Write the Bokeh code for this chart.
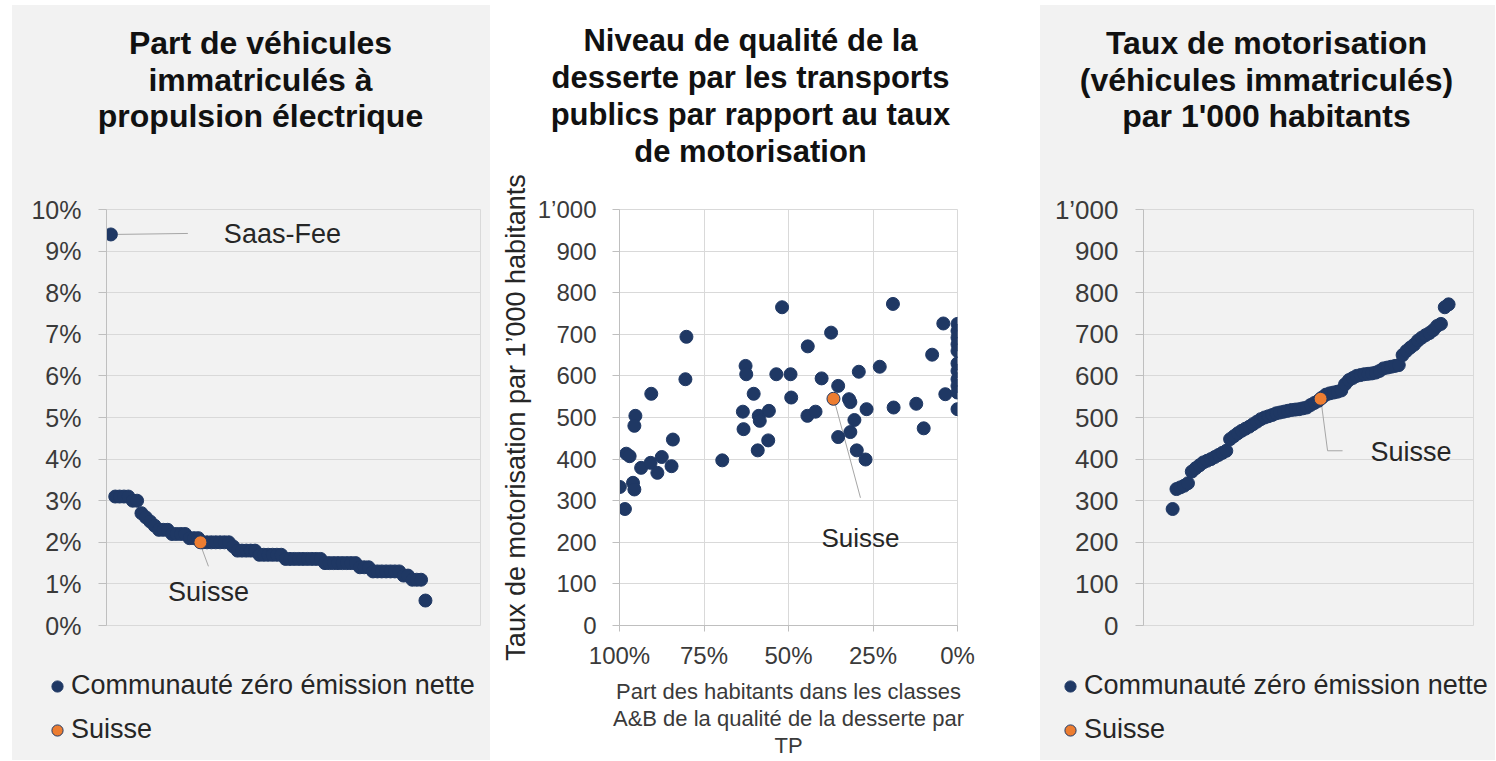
import numpy as np
from bokeh.plotting import figure
from bokeh.models import (Range1d, FixedTicker, PrintfTickFormatter, Legend, LegendItem, Label, Spacer)
from bokeh.layouts import row, column
from bokeh.embed import file_html
from bokeh.resources import INLINE

# ---------------- data ----------------
# Panel 1: share of electric vehicles (%), communities sorted descending
ev_share = [9.4,
            3.1, 3.1, 3.1, 3.1,
            3.0, 3.0,
            2.7, 2.6, 2.5, 2.4,
            2.3, 2.3, 2.3,
            2.2, 2.2, 2.2, 2.2,
            2.1, 2.1, 2.1,
            2.0, 2.0, 2.0, 2.0, 2.0, 2.0, 2.0,
            1.9,
            1.8, 1.8, 1.8, 1.8, 1.8,
            1.7, 1.7, 1.7, 1.7, 1.7, 1.7,
            1.6, 1.6, 1.6, 1.6, 1.6, 1.6, 1.6, 1.6, 1.6,
            1.5, 1.5, 1.5, 1.5, 1.5, 1.5, 1.5, 1.5,
            1.4, 1.4, 1.4,
            1.3, 1.3, 1.3, 1.3, 1.3, 1.3, 1.3,
            1.2, 1.2,
            1.1, 1.1, 1.1,
            0.6]
ev_rank = list(range(1, len(ev_share) + 1))
ev_suisse_rank = [21.5]
ev_suisse = [2.0]
ev_label = "Saas-Fee"

# Panel 2: share of inhabitants in PT classes A&B (%) vs motorisation rate
tp_share = [98.0, 97.0, 95.3, 95.6, 90.6, 93.6, 90.8, 88.8, 87.5, 84.6, 84.2, 80.5, 80.2, 69.6,
            62.7, 62.5, 63.5, 63.3, 60.3, 59.1, 58.8, 58.5, 55.8, 56.0,
            53.6, 51.9, 49.4, 49.2, 44.3, 44.4, 42.0, 40.2, 37.4, 35.3,
            32.1, 31.7, 30.5, 31.7, 35.3, 29.8, 27.2, 29.2, 26.9, 23.0,
            19.1, 18.9, 12.2, 10.0, 7.5, 4.2, 3.6,
            0, 0, 0, 0, 0, 0, 0, 0, 0, 0, 0,
            99.9, 98.4, 96.0, 95.6]
tp_motor = [413, 407, 504, 480, 557, 379, 391, 367, 405, 383, 447, 592, 694, 397,
            624, 604, 514, 472, 557, 421, 504, 492, 516, 445,
            604, 765, 604, 548, 671, 504, 514, 594, 704, 576,
            544, 537, 494, 465, 453, 421, 399, 610, 520, 622,
            773, 524, 533, 474, 651, 726, 556,
            725, 708, 692, 676, 660, 630, 612, 592, 576, 560, 520,
            333, 280, 343, 327]
tp_suisse = [36.7]
tp_suisse_motor = [545]

# Panel 3: motorisation rate per 1'000 inhabitants, sorted ascending
motor = [280, 328, 332, 336, 342, 370, 378, 385, 392, 396,
         400, 405, 410, 415, 420, 448, 455, 462, 468, 473,
         478, 484, 490, 496, 500, 503, 506, 510, 512, 514,
         516, 518, 519, 520, 522, 524, 530, 535, 540, 548,
         555, 558, 560, 562, 565, 580, 590, 595, 600, 602,
         604, 605, 606, 608, 612, 618, 620, 622, 624, 626,
         650, 660, 668, 675, 685, 692, 698, 703, 710, 720,
         725, 765, 772]
motor_rank = list(range(1, len(motor) + 1))
motor_suisse_rank = [39.6]
motor_suisse = [545]

title1 = ["Part de véhicules", "immatriculés à", "propulsion électrique"]
title2 = ["Niveau de qualité de la", "desserte par les transports",
          "publics par rapport au taux", "de motorisation"]
title3 = ["Taux de motorisation", "(véhicules immatriculés)", "par 1'000 habitants"]
legend_labels = ["Communauté zéro émission nette", "Suisse"]
pct_ticks = list(range(0, 11))
rate_ticks = list(range(0, 1001, 100))
tp_ticks = [0, 25, 50, 75, 100]

# ---------------- style ----------------
FONT = "Liberation Sans"
NAVY = "#1f3864"
ORANGE = "#ed7d31"
PANEL = "#f2f2f2"
GRID = "#d9d9d9"
AXIS = "#bfbfbf"
TICKTXT = "#3a3a3a"
TXT = "#262626"
LEAD = "#a6a6a6"
BAND_H = 5
PANEL_H = 755
FRAME_TOP = 209          # page y of plot-area top
FRAME_H = 416
PAD = 20
SIDE_TITLE_H = 184
MID_TITLE_H = 168
SIDE_MAIN_H = PAD + FRAME_H + PAD
LEG_H = PANEL_H - SIDE_TITLE_H - SIDE_MAIN_H
MID_MAIN_H = PANEL_H - MID_TITLE_H
MID_TOP = FRAME_TOP - BAND_H - MID_TITLE_H


def bare_fig(width, height, bg):
    f = figure(width=width, height=height, x_range=Range1d(0, width), y_range=Range1d(0, height),
               output_backend="svg", toolbar_location=None, tools="",
               x_axis_location=None, y_axis_location=None,
               min_border=0, min_border_left=0, min_border_right=0,
               min_border_top=0, min_border_bottom=0,
               background_fill_color=bg, border_fill_color=bg, outline_line_color=None,
               frame_align=False)
    f.grid.grid_line_color = None
    return f


def title_fig(width, height, bg, lines, xc, ycs, size):
    tf = bare_fig(width, height, bg)
    for line, yc in zip(lines, ycs):
        tf.add_layout(Label(x=xc, y=height - yc, text=line, text_align="center",
                            text_baseline="middle", text_font=FONT, text_font_size=size,
                            text_font_style="bold", text_color="#111111"))
    return tf


def legend_fig(width, bg, vx, vy):
    lf = bare_fig(width, LEG_H, bg)
    nan = np.array([np.nan])
    g1 = lf.scatter(x=nan, y=nan, size=13, fill_color=NAVY, line_color=NAVY)
    g2 = lf.scatter(x=nan, y=nan, size=13, fill_color=ORANGE, line_color=NAVY, line_width=1)
    leg = Legend(items=[LegendItem(label=legend_labels[0], renderers=[g1]),
                        LegendItem(label=legend_labels[1], renderers=[g2])],
                 location=(vx, vy), orientation="vertical",
                 label_text_font=FONT, label_text_font_size="27px", label_text_color=TXT,
                 glyph_width=28, glyph_height=30, label_height=30, spacing=13,
                 padding=0, margin=0, label_standoff=0,
                 border_line_color=None, background_fill_alpha=0)
    lf.add_layout(leg, "center")
    return lf


def main_fig(width, height, left, right, top, bottom, bg, x_range, y_range, x_loc):
    p = figure(width=width, height=height, x_range=x_range, y_range=y_range,
               output_backend="svg", toolbar_location=None, tools="",
               x_axis_location=x_loc,
               min_border_left=left, min_border_right=right,
               min_border_top=top, min_border_bottom=bottom,
               background_fill_color=bg, border_fill_color=bg,
               outline_line_color=GRID, frame_align=False)
    p.ygrid.grid_line_color = GRID
    p.xgrid.grid_line_color = None
    for ax in p.yaxis:
        ax.axis_line_color = AXIS
        ax.major_tick_line_color = AXIS
        ax.major_tick_out = 8
        ax.major_tick_in = 0
        ax.minor_tick_line_color = None
        ax.major_label_text_font = FONT
        ax.major_label_text_font_size = "25px"
        ax.major_label_text_color = TICKTXT
        ax.major_label_standoff = 17
    return p


# ---------------- top band ----------------
band = bare_fig(1496, BAND_H, ORANGE)

# ---------------- panel 1 ----------------
t1 = title_fig(478, SIDE_TITLE_H, PANEL, title1, 248, [37, 74, 110], "32px")
x1 = Range1d(0, 85.6)
p1 = main_fig(478, SIDE_MAIN_H, 94, 10, PAD, PAD, PANEL, x1, Range1d(0, 10), None)
p1.yaxis.ticker = FixedTicker(ticks=pct_ticks)
p1.yaxis.formatter = PrintfTickFormatter(format="%d%%")
u1 = (x1.end - x1.start) / 374.0  # data units per px
v1 = 10 / float(FRAME_H)
p1.line([ev_rank[0] + 2 * u1, ev_rank[0] + 77 * u1], [ev_share[0], ev_share[0] + 1 * v1],
        line_color=LEAD, line_width=1)
p1.line([ev_suisse_rank[0] + 1 * u1, ev_suisse_rank[0] + 8 * u1],
        [ev_suisse[0] - 5 * v1, ev_suisse[0] - 24 * v1], line_color=LEAD, line_width=1)
p1.scatter(ev_rank, ev_share, size=13, fill_color=NAVY, line_color=NAVY)
p1.scatter(ev_suisse_rank, ev_suisse, size=13, fill_color=ORANGE, line_color=NAVY, line_width=1)
p1.add_layout(Label(x=ev_rank[0], y=ev_share[0], x_offset=113, text=ev_label,
                    text_font=FONT, text_font_size="27px", text_color=TXT,
                    text_baseline="middle"))
p1.add_layout(Label(x=ev_suisse_rank[0], y=ev_suisse[0], x_offset=8, y_offset=-50,
                    text=legend_labels[1], text_font=FONT, text_font_size="27px",
                    text_color=TXT, text_baseline="middle", text_align="center"))
l1 = legend_fig(478, PANEL, 31, 15)

# ---------------- panel 2 ----------------
t2 = title_fig(550, MID_TITLE_H, "white", title2, 260, [35, 72, 109, 146], "31px")
x2 = Range1d(100, 0)
p2 = main_fig(550, MID_MAIN_H, 129, 83, MID_TOP, MID_MAIN_H - MID_TOP - FRAME_H, "white", x2,
              Range1d(0, 1000), "below")
p2.xgrid.grid_line_color = GRID
p2.xaxis.ticker = FixedTicker(ticks=tp_ticks)
p2.xgrid.ticker = FixedTicker(ticks=tp_ticks)
p2.xaxis.formatter = PrintfTickFormatter(format="%d%%")
p2.yaxis.ticker = FixedTicker(ticks=rate_ticks)
p2.yaxis.major_label_overrides = {1000: "1’000"}
p2.yaxis.major_label_text_font_size = "24px"
p2.yaxis.major_label_standoff = 16
p2.yaxis.major_tick_out = 7
p2.yaxis.axis_label = "Taux de motorisation par 1’000 habitants"
p2.yaxis.axis_label_text_font = FONT
p2.yaxis.axis_label_text_font_size = "27px"
p2.yaxis.axis_label_text_font_style = "normal"
p2.yaxis.axis_label_text_color = TXT
p2.yaxis.axis_label_standoff = 4
xa = p2.xaxis[0]
xa.axis_line_color = AXIS
xa.major_tick_line_color = AXIS
xa.major_tick_out = 6
xa.major_tick_in = 0
xa.minor_tick_line_color = None
xa.major_label_text_font = FONT
xa.major_label_text_font_size = "24px"
xa.major_label_text_color = TICKTXT
xa.major_label_standoff = 10
xa.axis_label = "Part des habitants dans les classes\nA&B de la qualité de la desserte par\nTP"
xa.axis_label_text_font = FONT
xa.axis_label_text_font_size = "22px"
xa.axis_label_text_font_style = "normal"
xa.axis_label_text_color = TICKTXT
xa.axis_label_text_line_height = 1.08
xa.axis_label_standoff = 7
u2 = 100 / 338.0
v2 = 1000 / float(FRAME_H)
p2.line([tp_suisse[0] - 2 * u2, tp_suisse[0] - 27 * u2],
        [tp_suisse_motor[0] - 6 * v2, tp_suisse_motor[0] - 99 * v2], line_color=LEAD, line_width=1)
p2.scatter(tp_share, tp_motor, size=13, fill_color=NAVY, line_color=NAVY)
p2.scatter(tp_suisse, tp_suisse_motor, size=13, fill_color=ORANGE, line_color=NAVY, line_width=1)
p2.add_layout(Label(x=tp_suisse[0], y=tp_suisse_motor[0], x_offset=27, y_offset=-139,
                    text=legend_labels[1], text_font=FONT, text_font_size="26px",
                    text_color=TXT, text_baseline="middle", text_align="center"))

# ---------------- panel 3 ----------------
t3 = title_fig(455, SIDE_TITLE_H, PANEL, title3, 226, [37, 74, 110], "32px")
x3 = Range1d(-6.6, 79.5)
p3 = main_fig(455, SIDE_MAIN_H, 103, 22, PAD, PAD, PANEL, x3, Range1d(0, 1000), None)
p3.yaxis.ticker = FixedTicker(ticks=rate_ticks)
p3.yaxis.major_label_overrides = {1000: "1’000"}
p3.yaxis.major_label_text_font_size = "26px"
u3 = (x3.end - x3.start) / 330.0
v3 = 1000 / float(FRAME_H)
p3.line([motor_suisse_rank[0] + 1 * u3, motor_suisse_rank[0] + 7 * u3, motor_suisse_rank[0] + 22 * u3],
        [motor_suisse[0] - 6 * v3, motor_suisse[0] - 52 * v3, motor_suisse[0] - 52 * v3],
        line_color=LEAD, line_width=1)
p3.scatter(motor_rank, motor, size=13, fill_color=NAVY, line_color=NAVY)
p3.scatter(motor_suisse_rank, motor_suisse, size=13, fill_color=ORANGE, line_color=NAVY, line_width=1)
p3.add_layout(Label(x=motor_suisse_rank[0], y=motor_suisse[0], x_offset=50, y_offset=-53,
                    text=legend_labels[1], text_font=FONT, text_font_size="27px",
                    text_color=TXT, text_baseline="middle", text_align="left"))
l3 = legend_fig(455, PANEL, 16, 15)

layout = column(band,
                row(Spacer(width=12, height=PANEL_H),
                    column(t1, p1, l1, spacing=0, styles={"background-color": PANEL}),
                    column(t2, p2, spacing=0),
                    column(t3, p3, l3, spacing=0, styles={"background-color": PANEL}),
                    spacing=0),
                spacing=0)
open("out.html", "w").write(file_html(layout, INLINE))
